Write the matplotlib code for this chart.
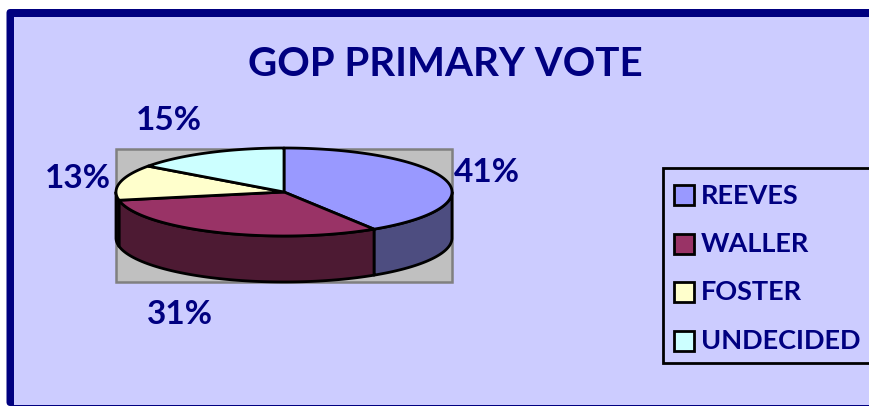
import numpy as np
import matplotlib
matplotlib.use("Agg")
import matplotlib.pyplot as plt
from matplotlib.patches import Polygon, Rectangle, FancyBboxPatch

title = "GOP PRIMARY VOTE"
names = ["REEVES", "WALLER", "FOSTER", "UNDECIDED"]
values = [41, 31, 13, 15]
pct_labels = ["41%", "31%", "13%", "15%"]
top_colors = ["#9999FF", "#993366", "#FFFFCC", "#CCFFFF"]
side_colors = ["#4D4D80", "#4D1A33", "#1A0D14", "#667F7F"]
label_pos = [(487, 172), (180, 315), (78, 178), (169, 120)]

navy = "#000080"
bg = "#CCCCFF"
plt.rcParams["font.family"] = ["Lato", "DejaVu Sans"]

# pixel coordinates, y going down
fig = plt.figure(figsize=(8.7, 4.07), dpi=100)
ax = fig.add_axes([0, 0, 1, 1])
ax.set_xlim(0, 870)
ax.set_ylim(407, 0)
ax.axis("off")

# outer frame: thick left and top, thin bottom, runs off the right side
ax.add_patch(FancyBboxPatch((6.5, 9), 900, 397, boxstyle="round,pad=0,rounding_size=4",
                            fc=navy, ec="none"))
ax.add_patch(Rectangle((14, 16.5), 900, 388, fc=bg, ec="none"))

ax.text(445, 64, title, color=navy, fontsize=29, fontweight="bold", ha="center", va="center")

# grey plot area behind the pie
ax.add_patch(Rectangle((116.5, 148.5), 336, 133, fc="#C0C0C0", ec="#808080", lw=1.8))

cx, cy, rx, ry, depth = 284, 192, 168, 44, 46


def rim(t):
    # t is in radians, clockwise from the top of the ellipse
    return cx + rx * np.sin(t), cy - ry * np.cos(t)


edges = np.cumsum([0] + values) / sum(values) * 2 * np.pi

# side walls, only the front half of the ellipse shows
for i in range(len(values)):
    a = max(edges[i], np.pi / 2)
    b = min(edges[i + 1], 3 * np.pi / 2)
    if b <= a:
        continue
    t = np.linspace(a, b, 120)
    x, y = rim(t)
    pts = np.r_[np.c_[x, y], np.c_[x[::-1], y[::-1] + depth]]
    ax.add_patch(Polygon(pts, closed=True, fc=side_colors[i], ec="black", lw=2, joinstyle="round"))

# top face
for i in range(len(values)):
    t = np.linspace(edges[i], edges[i + 1], 200)
    x, y = rim(t)
    pts = np.r_[[[cx, cy]], np.c_[x, y]]
    ax.add_patch(Polygon(pts, closed=True, fc=top_colors[i], ec="black", lw=2, joinstyle="round"))

for lab, (lx, ly) in zip(pct_labels, label_pos):
    ax.text(lx, ly, lab, color=navy, fontsize=24, fontweight="bold", ha="center", va="center")

# legend
ax.add_patch(Rectangle((663, 167.5), 220, 195, fc=bg, ec="black", lw=2))
for i, name in enumerate(names):
    ly = 195 + i * 48.5
    ax.add_patch(Rectangle((674, ly - 10), 20, 20, fc=top_colors[i], ec="black", lw=2))
    ax.text(701, ly + 0.5, name, color=navy, fontsize=19.5, fontweight="bold", ha="left", va="center")

fig.savefig("out.png", dpi=100, facecolor="white")
